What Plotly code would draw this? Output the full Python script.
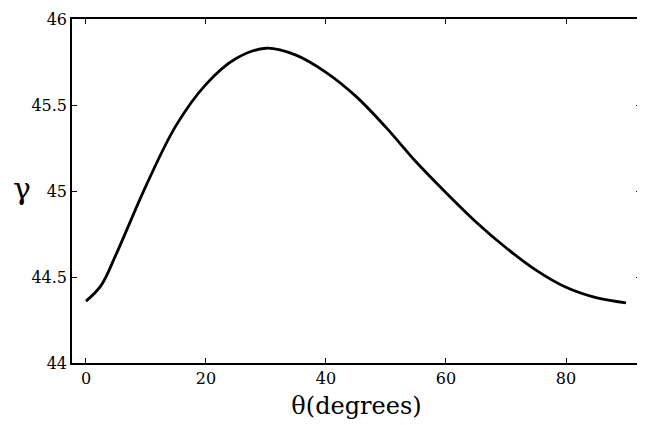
import plotly.graph_objects as go

theta = [0, 2.5, 5, 10, 15, 20, 25, 30, 35, 40, 45, 50, 55, 60, 65, 70, 75, 80, 85, 90]
gamma = [44.36, 44.45, 44.63, 45.03, 45.38, 45.62, 45.77, 45.83, 45.79, 45.69, 45.55, 45.37,
         45.17, 44.99, 44.82, 44.67, 44.54, 44.44, 44.38, 44.35]

x_ticks = [0, 20, 40, 60, 80]
y_ticks = [44, 44.5, 45, 45.5, 46]
y_ticklabels = ["44", "44.5", "45", "45.5", "46"]

font = "DejaVu Serif"

W, H = 637, 417          # page body has an 8px margin
L, R, T, B = 64, 4, 11, 62

fig = go.Figure()
fig.add_trace(go.Scatter(x=theta, y=gamma, mode="lines",
                         line=dict(color="black", width=2.8, shape="spline", smoothing=1.0),
                         showlegend=False, hoverinfo="skip"))

fig.update_layout(
    width=W, height=H,
    margin=dict(l=L, r=R, t=T, b=B),
    paper_bgcolor="white", plot_bgcolor="white",
    font=dict(family=font, color="black", size=16),
    xaxis=dict(range=[-2.33, 92.5], tickvals=x_ticks, ticks="inside", ticklen=5,
               tickwidth=1.2, tickcolor="black", showline=True, linecolor="black",
               linewidth=1.6, mirror="ticks", showgrid=False, zeroline=False,
               automargin=False, ticklabeloverflow="allow",
               tickfont=dict(family=font, size=16),
               title=dict(text="θ(degrees)", font=dict(family=font, size=24), standoff=10)),
    yaxis=dict(range=[44, 46], tickvals=y_ticks, ticktext=y_ticklabels, ticks="inside",
               ticklen=5, tickwidth=1.2, tickcolor="black", showline=True, linecolor="black",
               linewidth=1.6, mirror="ticks", showgrid=False, zeroline=False,
               automargin=False, ticklabeloverflow="allow",
               tickfont=dict(family=font, size=16)),
    annotations=[dict(text="γ", x=(14 - L) / (W - L - R), y=(H - B - 180) / (H - T - B),
                      xref="paper", yref="paper", xanchor="center", yanchor="middle",
                      showarrow=False, font=dict(family=font, size=30))],
)

fig.write_html("out.html")
